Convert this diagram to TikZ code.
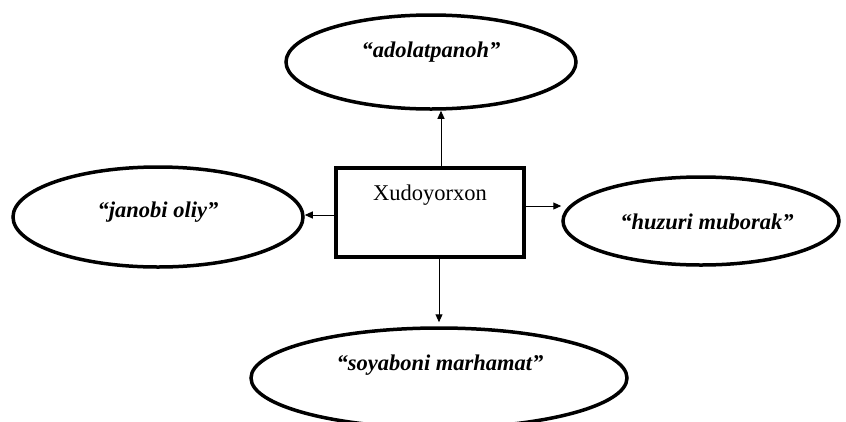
\documentclass[tikz,border=0pt]{standalone}
\usepackage{fontspec}
\setmainfont{Liberation Serif}
\usetikzlibrary{shapes.geometric,arrows.meta}
\tikzset{
  oval/.style={draw, ellipse, line width=3.5pt, inner sep=0pt},
  lbl/.style={font=\fontsize{22.5}{26}\selectfont\bfseries\itshape, inner sep=0pt},
  mainbox/.style={draw, rectangle, line width=3.5pt, inner sep=0pt, minimum width=188pt, minimum height=89pt},
  arr/.style={line width=1pt, -{Triangle[length=8pt,width=7pt]}}
}
\begin{document}
\begin{tikzpicture}[x=1pt,y=-1pt]
\useasboundingbox (0,0) rectangle (846,421);
\node[mainbox] (box) at (430,212.5) {};
\node[font=\fontsize{22.5}{26}\selectfont, inner sep=0pt] (boxtext) at (430,195) {Xudoyorxon};
\node[oval, minimum width=290pt, minimum height=94pt] (top) at (431,62) {};
\node[lbl] (ttop) at (431,52) {“adolatpanoh”};
\node[oval, minimum width=290pt, minimum height=100pt] (left) at (158,217) {};
\node[lbl] (tleft) at (158,212) {“janobi oliy”};
\node[oval, minimum width=276pt, minimum height=88pt] (right) at (701,221) {};
\node[lbl] (tright) at (707,222) {“huzuri muborak”};
\node[oval, minimum width=376pt, minimum height=100pt] (bottom) at (439,378) {};
\node[lbl] (tbottom) at (440,365) {“soyaboni marhamat”};
\draw[arr] ([xshift=11pt]box.north) -- ([xshift=11pt]box.north |- top.south);
\draw[arr] ([yshift=-2.5pt]box.west) -- ([yshift=-2.5pt]box.west -| left.east);
\draw[arr] ([yshift=6.5pt]box.east) -- ([yshift=6.5pt]box.east -| right.west);
\draw[arr, shorten >=4pt] ([xshift=9pt]box.south) -- ([xshift=9pt]box.south |- bottom.north);
\end{tikzpicture}
\end{document}
